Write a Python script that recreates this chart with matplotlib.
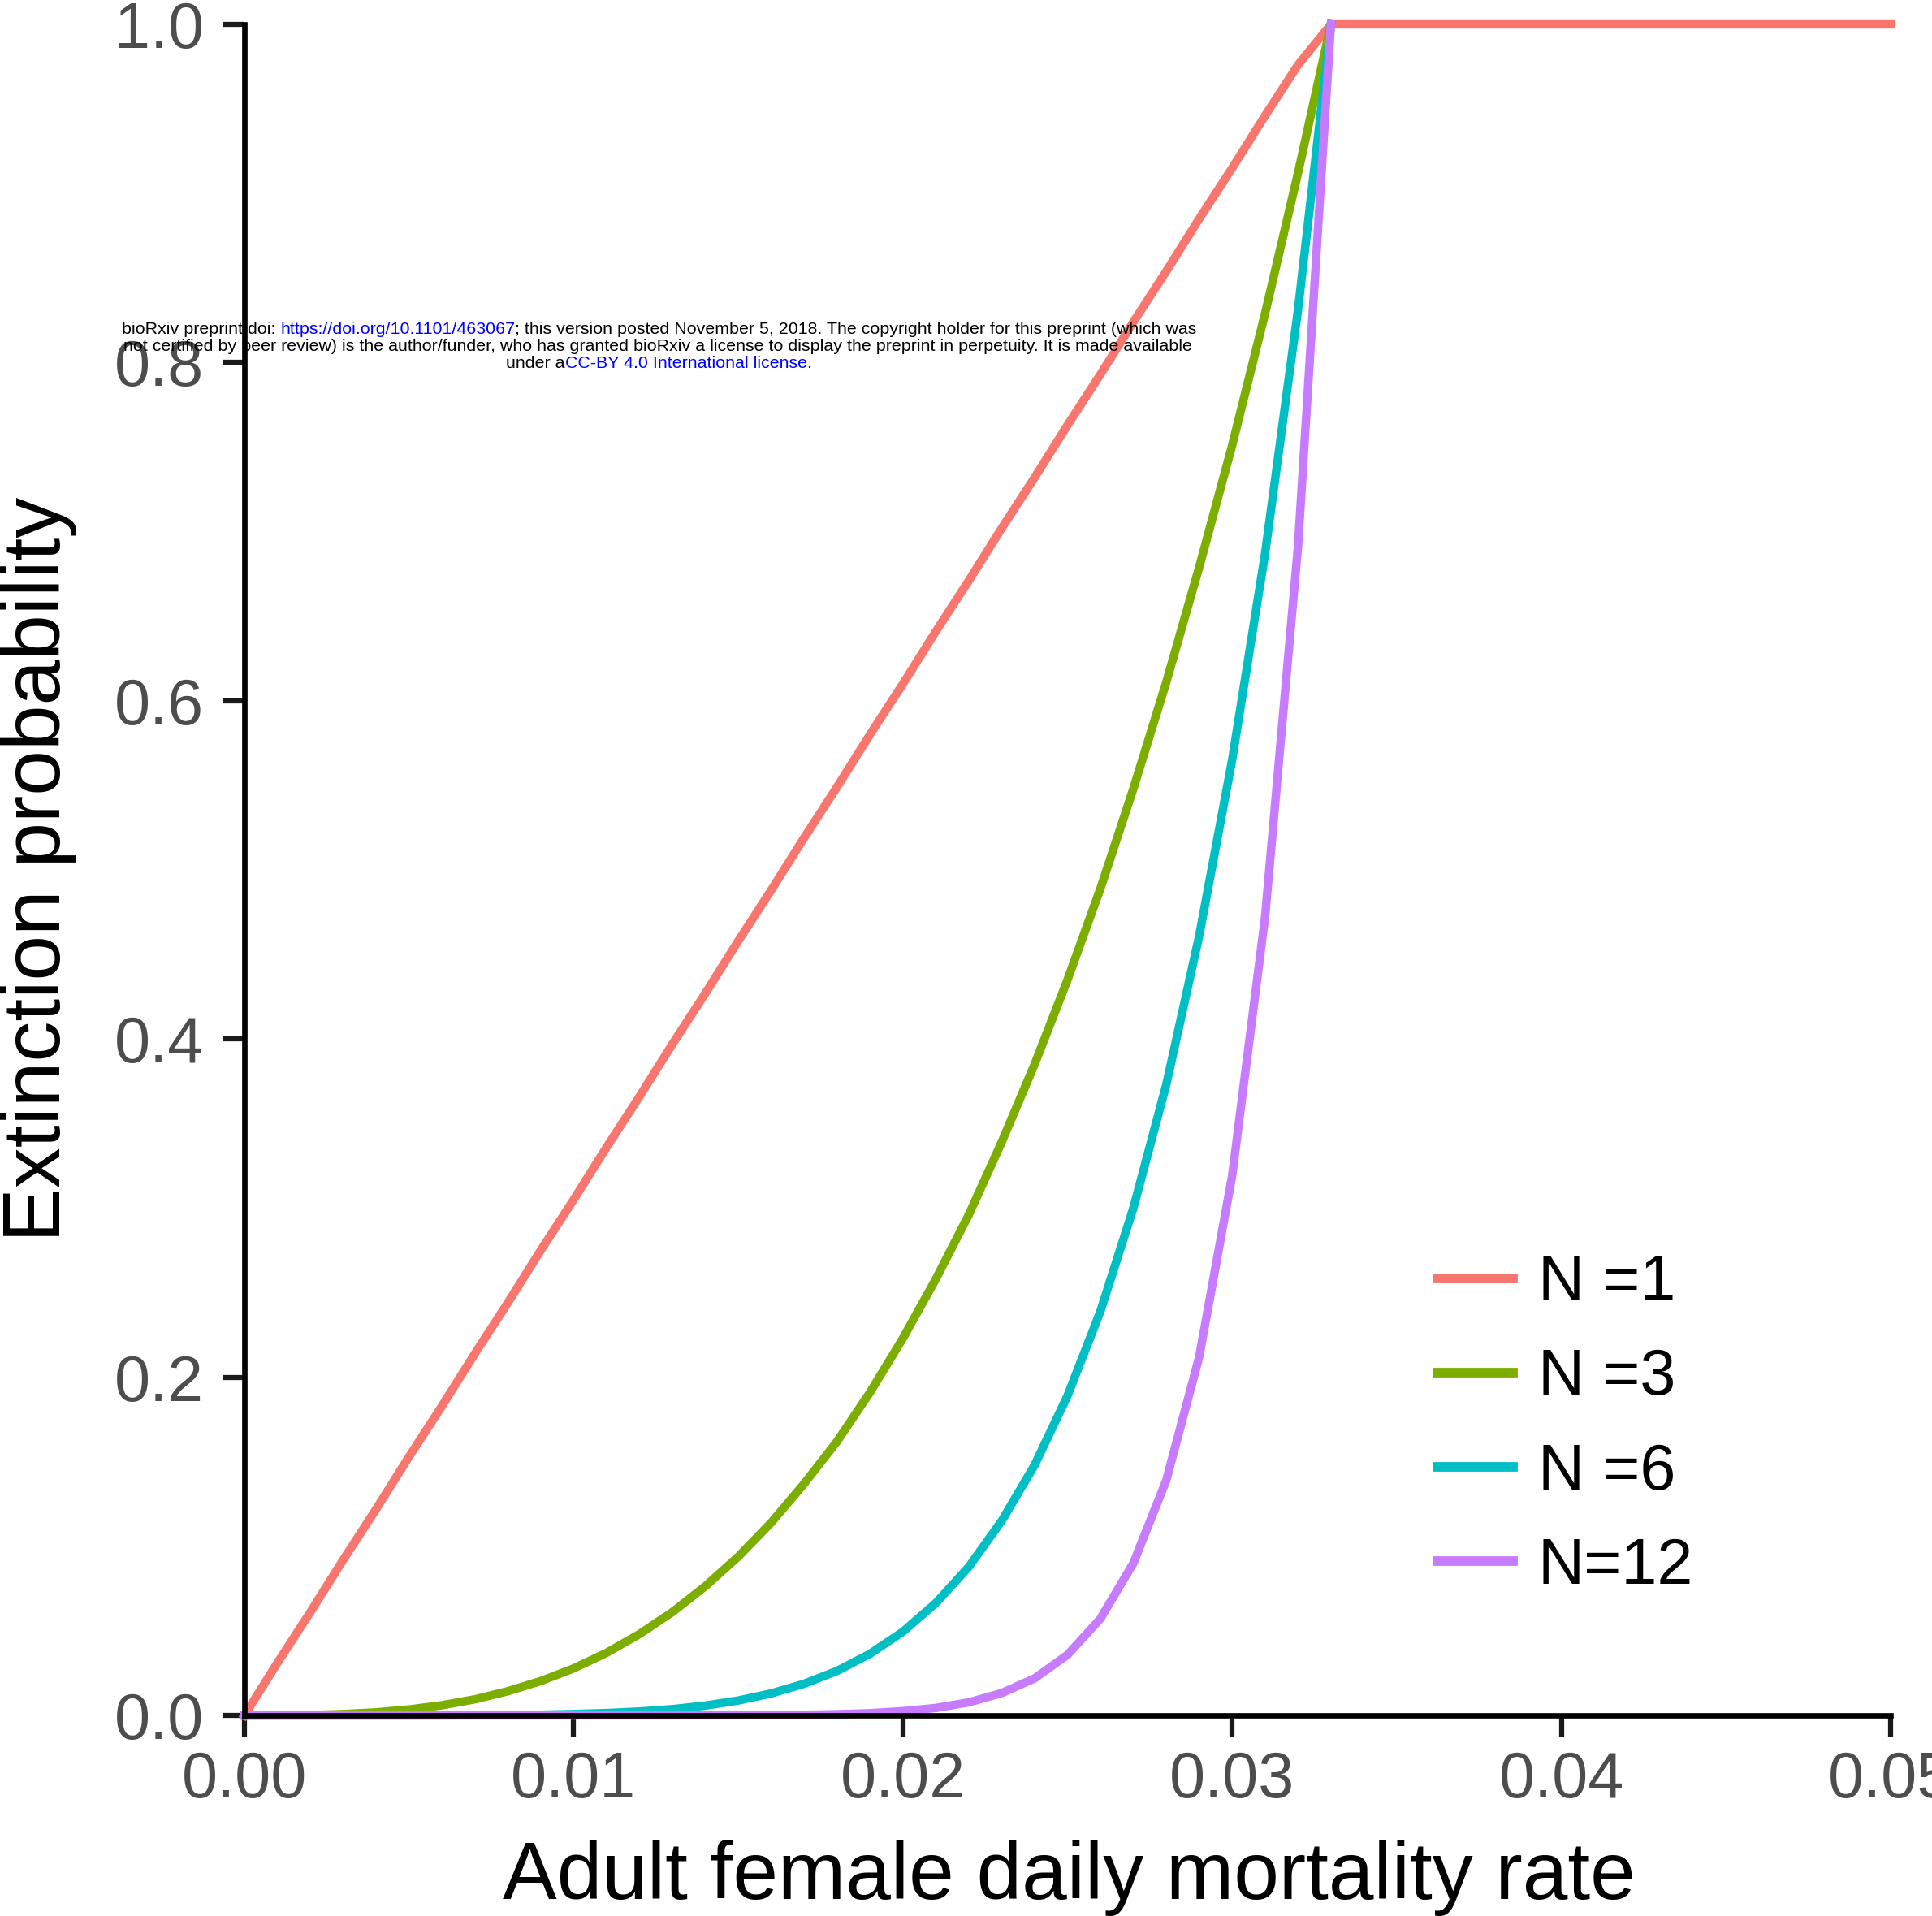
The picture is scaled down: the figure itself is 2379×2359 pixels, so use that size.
import matplotlib
matplotlib.use("Agg")
import matplotlib.pyplot as plt
from matplotlib.lines import Line2D

plt.rcParams['font.family'] = ['Liberation Sans', 'DejaVu Sans']

# mortality rate grid (points every 0.001 up to 0.033, then flat for N=1)
mort_rate = [0.000, 0.001, 0.002, 0.003, 0.004, 0.005, 0.006, 0.007, 0.008, 0.009,
             0.010, 0.011, 0.012, 0.013, 0.014, 0.015, 0.016, 0.017, 0.018, 0.019,
             0.020, 0.021, 0.022, 0.023, 0.024, 0.025, 0.026, 0.027, 0.028, 0.029,
             0.030, 0.031, 0.032, 0.033, 0.050]

ext_n1 = [0.000, 0.031, 0.061, 0.092, 0.122, 0.153, 0.183, 0.214, 0.244, 0.275,
          0.305, 0.336, 0.366, 0.397, 0.427, 0.458, 0.488, 0.519, 0.549, 0.580,
          0.610, 0.641, 0.671, 0.702, 0.732, 0.763, 0.793, 0.824, 0.854, 0.885,
          0.915, 0.946, 0.976, 1.000, 1.000]

ext_n3 = [0.000, 0.00003, 0.0002, 0.0008, 0.0018, 0.0035, 0.0060, 0.0095, 0.0143, 0.0203,
          0.0278, 0.0370, 0.0481, 0.0611, 0.0764, 0.0939, 0.114, 0.137, 0.162, 0.191,
          0.223, 0.258, 0.296, 0.339, 0.385, 0.435, 0.489, 0.548, 0.611, 0.679,
          0.751, 0.829, 0.912, 1.000]

ext_n6 = [0.000, 0.0, 0.0, 0.0, 0.0, 0.00001, 0.00004, 0.00009, 0.0002, 0.0004,
          0.0008, 0.0014, 0.0023, 0.0037, 0.0058, 0.0088, 0.0130, 0.0187, 0.0263, 0.0364,
          0.0495, 0.0664, 0.0878, 0.115, 0.148, 0.189, 0.239, 0.300, 0.373, 0.461,
          0.565, 0.687, 0.831, 1.000]

ext_n12 = [0.000, 0.0, 0.0, 0.0, 0.0, 0.0, 0.0, 0.0, 0.0, 0.0,
           0.0, 0.0, 0.00001, 0.00001, 0.00003, 0.00008, 0.00017, 0.00035, 0.0007, 0.0013,
           0.0025, 0.0044, 0.0077, 0.0132, 0.0219, 0.0358, 0.0572, 0.0900, 0.139, 0.212,
           0.319, 0.472, 0.691, 1.000]

series_labels = ["N =1", "N =3", "N =6", "N=12"]
series_colors = ["#F8766D", "#7CAE00", "#00BFC4", "#C77CFF"]

x_ticks = [0.00, 0.01, 0.02, 0.03, 0.04, 0.05]
x_ticklabels = ["0.00", "0.01", "0.02", "0.03", "0.04", "0.05"]
y_ticks = [0.0, 0.2, 0.4, 0.6, 0.8, 1.0]
y_ticklabels = ["0.0", "0.2", "0.4", "0.6", "0.8", "1.0"]

W, H = 2379, 2359
fig = plt.figure(figsize=(W / 100, H / 100), dpi=100)
ax = fig.add_axes([301 / W, (H - 2112) / H, (2328 - 301) / W, (2112 - 30) / H])

for yv, lab, col in zip([ext_n1, ext_n3, ext_n6, ext_n12], series_labels, series_colors):
    ax.plot(mort_rate[:len(yv)], yv, color=col, lw=7.5, label=lab, clip_on=False,
            solid_joinstyle='miter', zorder=2)

ax.set_xlim(0, 0.05)
ax.set_ylim(0, 1)
ax.set_xticks(x_ticks)
ax.set_xticklabels(x_ticklabels)
ax.set_yticks(y_ticks)
ax.set_yticklabels(y_ticklabels)

for s in ['top', 'right']:
    ax.spines[s].set_visible(False)
for s in ['left', 'bottom']:
    ax.spines[s].set_linewidth(4.8)
    ax.spines[s].set_color('black')
    ax.spines[s].set_zorder(3)
    ax.spines[s].set_capstyle('projecting')

ax.tick_params(axis='both', direction='out', length=19, width=4.5, color='#1a1a1a',
               labelsize=57, labelcolor='#4D4D4D')
ax.tick_params(axis='x', pad=12)
ax.tick_params(axis='y', pad=17)

# axis titles
fig.text(1316 / W, (H - 2338) / H, "Adult female daily mortality rate", fontsize=72,
         ha='center', va='baseline', color='black')
fig.text(74 / W, (H - 1070) / H, "Extinction probability", fontsize=72, rotation=90,
         rotation_mode='anchor', ha='center', va='baseline', color='black')

handles = [Line2D([], [], color=c, lw=8.5) for c in series_colors]
leg = ax.legend(handles, series_labels, loc='center left',
                bbox_to_anchor=(1770 / W, (H - 1755) / H), bbox_transform=fig.transFigure,
                frameon=False, fontsize=57, handlelength=1.17, handletextpad=0.39,
                labelspacing=0.52, borderpad=0, borderaxespad=0)

# preprint notice overlaid on the figure
note_fs = 15.4
blue = '#0000FF'
t1 = fig.text(150 / W, (H - 411) / H, "bioRxiv preprint doi: ", fontsize=note_fs,
              color='black', ha='left', va='baseline', zorder=10)
t1b = ax.annotate("https://doi.org/10.1101/463067", xy=(1, 0), xycoords=t1,
                  fontsize=note_fs, color=blue, ha='left', va='bottom',
                  annotation_clip=False, zorder=10)
ax.annotate("; this version posted November 5, 2018. The copyright holder for this preprint (which was",
            xy=(1, 0), xycoords=t1b, fontsize=note_fs, color='black', ha='left',
            va='bottom', annotation_clip=False, zorder=10)
fig.text(810 / W, (H - 432) / H,
         "not certified by peer review) is the author/funder, who has granted bioRxiv a license to display the preprint in perpetuity. It is made available",
         fontsize=note_fs, color='black', ha='center', va='baseline', zorder=10)
t3 = fig.text(623 / W, (H - 453) / H, "under a", fontsize=note_fs, color='black',
              ha='left', va='baseline', zorder=10)
t3b = ax.annotate("CC-BY 4.0 International license", xy=(1, 0), xycoords=t3,
                  fontsize=note_fs, color=blue, ha='left', va='bottom',
                  annotation_clip=False, zorder=10)
ax.annotate(".", xy=(1, 0), xycoords=t3b, fontsize=note_fs, color='black',
            ha='left', va='bottom', annotation_clip=False, zorder=10)

fig.savefig("out.png", dpi=100)
